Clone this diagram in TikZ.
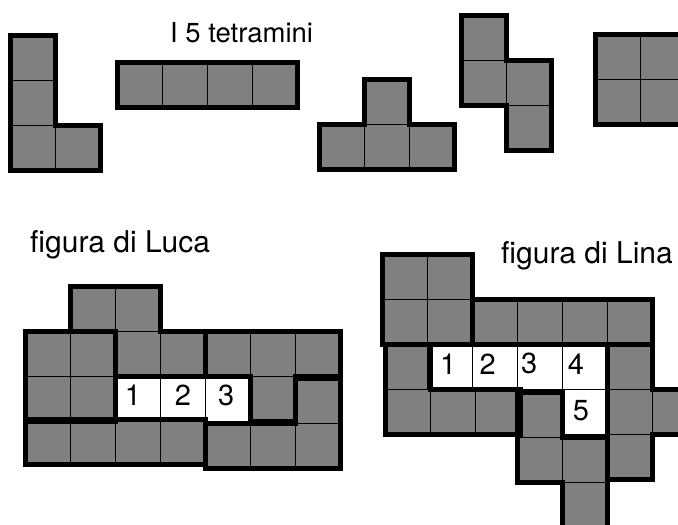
\documentclass[tikz,border=0pt]{standalone}
\usepackage{fontspec}
\setmainfont{TeX Gyre Heros}
\tikzset{
  cell/.style={draw=black,line width=1.6pt,fill=gray},
  hole/.style={draw=black,line width=1.6pt,fill=white},
  piece/.style={draw=black,line width=5.5pt,line join=miter},
  num/.style={inner sep=0pt,font=\fontsize{29}{32}\selectfont},
  caption/.style={inner sep=0pt,anchor=base west,font=\fontsize{30}{34}\selectfont}
}
\begin{document}
\begin{tikzpicture}[x=1pt,y=-1pt]
\useasboundingbox (0,0) rectangle (678,525);

\node[caption,font=\fontsize{27.5}{30}\selectfont] (title) at (170,42) {I 5 tetramini};
\node[caption] (luca) at (30,252) {figura di Luca};
\node[caption] (lina) at (501,263) {figura di Lina};

% i cinque pezzi
\begin{scope}[shift={(10.5,35.5)},x=45pt,y=-45pt]
\foreach \c/\r in {0/0,0/1,0/2,1/2} \draw[cell] (\c,\r) rectangle ++(1,1);
\draw[piece] (0,0)--(1,0)--(1,2)--(2,2)--(2,3)--(0,3)--cycle;
\end{scope}
\begin{scope}[shift={(117.5,62.5)},x=45pt,y=-45pt]
\foreach \c in {0,...,3} \draw[cell] (\c,0) rectangle ++(1,1);
\draw[piece] (0,0) rectangle (4,1);
\end{scope}
\begin{scope}[shift={(319.5,79.5)},x=45pt,y=-45pt]
\foreach \c/\r in {1/0,0/1,1/1,2/1} \draw[cell] (\c,\r) rectangle ++(1,1);
\draw[piece] (1,0)--(2,0)--(2,1)--(3,1)--(3,2)--(0,2)--(0,1)--(1,1)--cycle;
\end{scope}
\begin{scope}[shift={(461.5,15.5)},x=45pt,y=-45pt]
\foreach \c/\r in {0/0,0/1,1/1,1/2} \draw[cell] (\c,\r) rectangle ++(1,1);
\draw[piece] (0,0)--(1,0)--(1,1)--(2,1)--(2,3)--(1,3)--(1,2)--(0,2)--cycle;
\end{scope}
\begin{scope}[shift={(595.5,34.5)},x=45pt,y=-45pt]
\foreach \c/\r in {0/0,1/0,0/1,1/1} \draw[cell] (\c,\r) rectangle ++(1,1);
\draw[piece] (0,0) rectangle (2,2);
\end{scope}

% figura di Luca
\begin{scope}[shift={(25.5,286.5)},x=45pt,y=-45pt]
\foreach \c/\r in {1/0,2/0,2/1,3/1,0/1,1/1,0/2,1/2,4/1,5/1,6/1,5/2}
  \draw[cell] (\c,\r) rectangle ++(1,1);
\foreach \c/\r in {6/2,4/3,5/3,6/3} \draw[cell,yshift=-2pt] (\c,\r) rectangle ++(1,1);
\foreach \c in {0,...,3} \draw[cell,yshift=2pt] (\c,3) rectangle ++(1,1);
\foreach \c in {2,3,4} \draw[hole] (\c,2) rectangle ++(1,1);
\draw[piece] (1,0)--(3,0)--(3,1)--(4,1)--(4,2)--(2,2)--(2,1)--(1,1)--cycle;
\draw[piece] (0,1) rectangle (2,3);
\draw[piece] (4,1)--(7,1)--(7,2)--(6,2)--(6,3)--(5,3)--(5,2)--(4,2)--cycle;
\draw[piece,yshift=-2pt] (6,2)--(7,2)--(7,4)--(4,4)--(4,3)--(6,3)--cycle;
\draw[piece,yshift=2pt] (0,3) rectangle (4,4);
\node[num] (lu1) at (2.39,2.41) {1};
\node[num] (lu2) at (3.5,2.41) {2};
\node[num] (lu3) at (4.46,2.41) {3};
\end{scope}

% figura di Lina
\begin{scope}[shift={(382.5,254.5)},x=45pt,y=-45pt]
\foreach \c/\r in {0/0,1/0,0/1,1/1,2/1,3/1,4/1,5/1,5/2,5/3,6/3,5/4}
  \draw[cell] (\c,\r) rectangle ++(1,1);
\foreach \c/\r in {0/2,0/3,1/3,2/3} \draw[cell,xshift=3pt] (\c,\r) rectangle ++(1,1);
\foreach \c/\r in {3/3,3/4,4/4,4/5} \draw[cell,yshift=-3pt] (\c,\r) rectangle ++(1,1);
\foreach \c/\r in {1/2,2/2,3/2,4/2,4/3} \draw[hole] (\c,\r) rectangle ++(1,1);
\draw[piece] (0,0) rectangle (2,2);
\draw[piece] (2,1) rectangle (6,2);
\draw[piece,xshift=3pt] (0,2)--(1,2)--(1,3)--(3,3)--(3,4)--(0,4)--cycle;
\draw[piece,yshift=-3pt] (3,3)--(4,3)--(4,4)--(5,4)--(5,6)--(4,6)--(4,5)--(3,5)--cycle;
\draw[piece] (5,2)--(6,2)--(6,3)--(7,3)--(7,4)--(6,4)--(6,5)--(5,5)--cycle;
\node[num] (li1) at (1.46,2.43) {1};
\node[num] (li2) at (2.34,2.43) {2};
\node[num] (li3) at (3.26,2.43) {3};
\node[num] (li4) at (4.3,2.43) {4};
\node[num] (li5) at (4.41,3.46) {5};
\end{scope}
\end{tikzpicture}
\end{document}
